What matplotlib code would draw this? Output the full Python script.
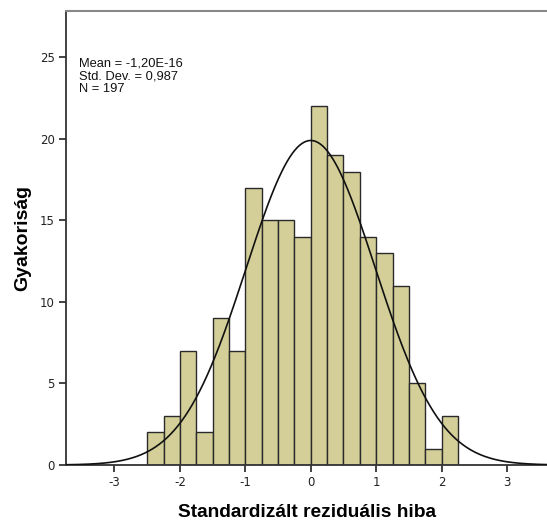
import matplotlib.pyplot as plt
import numpy as np

plt.rcParams['font.family'] = ['Liberation Sans', 'DejaVu Sans']

# histogram of standardized residuals, bin width 0.25 starting at -2.5
bin_edges = np.arange(-2.5, 2.25 + 0.001, 0.25)
counts = [2, 3, 7, 2, 9, 7, 17, 15, 15, 14, 22, 19, 18, 14, 13, 11, 5, 1, 3]
mean = -1.20e-16
std = 0.987
n = 197
x_ticks = [-3, -2, -1, 0, 1, 2, 3]
y_ticks = [0, 5, 10, 15, 20, 25]

fig = plt.figure(figsize=(5.47, 5.23), dpi=100)
ax = fig.add_axes([66 / 547, 58 / 523, 481 / 547, 454 / 523])

ax.bar(bin_edges[:-1], counts, width=0.25, align='edge',
       color='#d4cf98', edgecolor='#2a2a2a', linewidth=1.0, zorder=2)

xs = np.linspace(-3.8, 3.7, 400)
bw = 0.25
ys = n * bw / (std * np.sqrt(2 * np.pi)) * np.exp(-0.5 * ((xs - mean) / std) ** 2)
ax.plot(xs, ys, color='#111111', linewidth=1.2, zorder=3)

ax.set_xlim(-3.74, 3.61)
ax.set_ylim(0, 27.85)
ax.set_xticks(x_ticks)
ax.set_yticks(y_ticks)
ax.set_xticklabels([str(t) for t in x_ticks])
ax.tick_params(axis='both', direction='out', length=5, width=1.2,
               labelsize=8.5, colors='#222222', pad=3)
for lab in ax.get_xticklabels() + ax.get_yticklabels():
    lab.set_family('DejaVu Sans')

ax.spines['right'].set_visible(False)
ax.spines['top'].set_color('#888888')
ax.spines['top'].set_linewidth(1.5)
ax.spines['left'].set_color('#333333')
ax.spines['bottom'].set_color('#333333')
ax.spines['left'].set_linewidth(1.3)
ax.spines['bottom'].set_linewidth(1.3)

ax.set_xlabel('Standardizált reziduális hiba', fontsize=13.8, fontweight='bold', labelpad=11)
ax.set_ylabel('Gyakoriság', fontsize=14, fontweight='bold', labelpad=6)

ax.text(0.028, 0.898, 'Mean = -1,20E-16\nStd. Dev. = 0,987\nN = 197',
        transform=ax.transAxes, fontsize=9.3, va='top', ha='left',
        linespacing=1.1, color='#111111')

fig.savefig('out.png', dpi=100)
